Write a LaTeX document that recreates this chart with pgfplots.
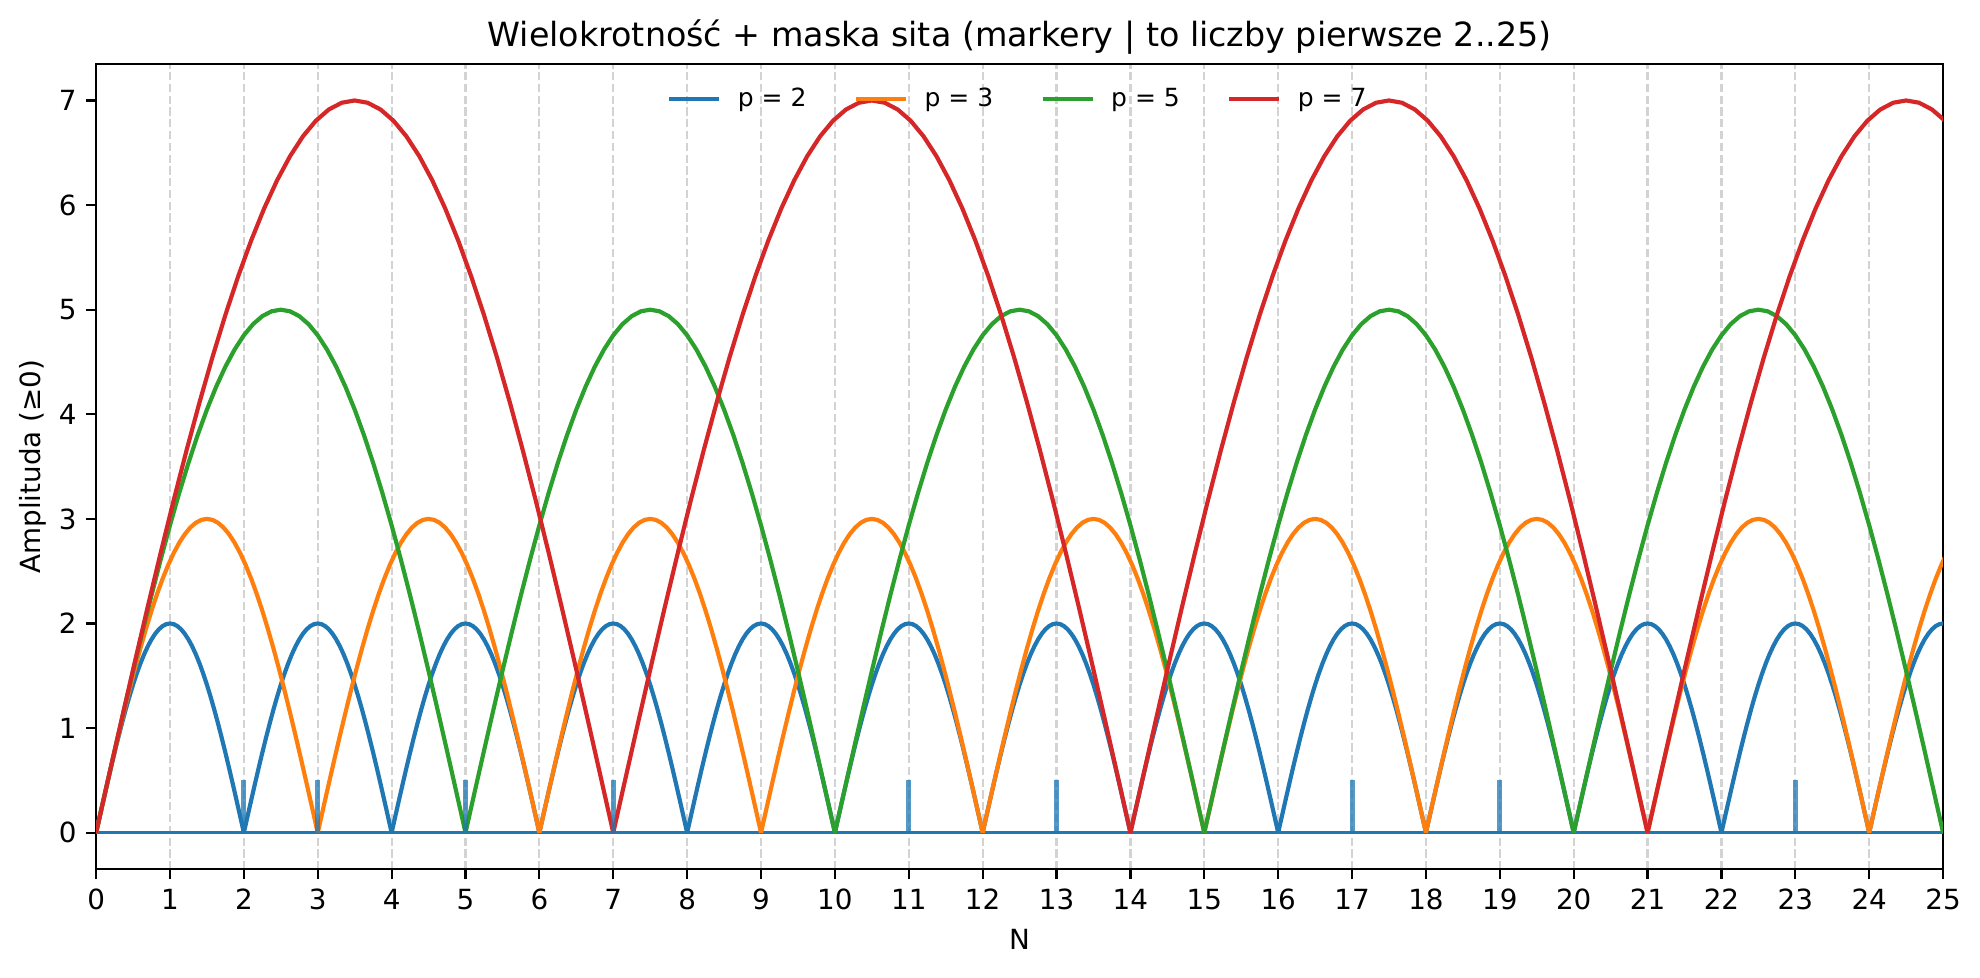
\documentclass[border=0pt]{standalone}
\usepackage{fontspec}
\setmainfont{DejaVu Sans}
\usepackage{pgfplots}
\pgfplotsset{compat=1.18}
\usepackage{pgfplotstable}
\definecolor{c0}{HTML}{1F77B4}
\definecolor{c1}{HTML}{FF7F0E}
\definecolor{c2}{HTML}{2CA02C}
\definecolor{c3}{HTML}{D62728}
\definecolor{gridc}{HTML}{D3D3D3}

% one arch of p*|sin(pi N/p)| for each p, N from 0 to p
\pgfplotstableread{
x y
0 0
0.05 0.15692
0.1 0.31286
0.15 0.46690
0.2 0.61804
0.25 0.76536
0.3 0.90798
0.35 1.04500
0.4 1.17558
0.45 1.29890
0.5 1.41422
0.55 1.52082
0.6 1.61804
0.65 1.70528
0.7 1.78202
0.75 1.84776
0.8 1.90212
0.85 1.94474
0.9 1.97538
0.95 1.99384
1 2
1.05 1.99384
1.1 1.97538
1.15 1.94474
1.2 1.90212
1.25 1.84776
1.3 1.78202
1.35 1.70528
1.4 1.61804
1.45 1.52082
1.5 1.41422
1.55 1.29890
1.6 1.17558
1.65 1.04500
1.7 0.90798
1.75 0.76536
1.8 0.61804
1.85 0.46690
1.9 0.31286
1.95 0.15692
2 0
}\archTwo

\pgfplotstableread{
x y
0 0
0.075 0.23538
0.15 0.46929
0.225 0.70035
0.3 0.92706
0.375 1.14804
0.45 1.36197
0.525 1.56750
0.6 1.76337
0.675 1.94835
0.75 2.12133
0.825 2.28123
0.9 2.42706
0.975 2.55792
1.05 2.67303
1.125 2.77164
1.2 2.85318
1.275 2.91711
1.35 2.96307
1.425 2.99076
1.5 3
1.575 2.99076
1.65 2.96307
1.725 2.91711
1.8 2.85318
1.875 2.77164
1.95 2.67303
2.025 2.55792
2.1 2.42706
2.175 2.28123
2.25 2.12133
2.325 1.94835
2.4 1.76337
2.475 1.56750
2.55 1.36197
2.625 1.14804
2.7 0.92706
2.775 0.70035
2.85 0.46929
2.925 0.23538
3 0
}\archThree

\pgfplotstableread{
x y
0 0
0.125 0.39230
0.25 0.78215
0.375 1.16725
0.5 1.54510
0.625 1.91340
0.75 2.26995
0.875 2.61250
1 2.93895
1.125 3.24725
1.25 3.53555
1.375 3.80205
1.5 4.04510
1.625 4.26320
1.75 4.45505
1.875 4.61940
2 4.75530
2.125 4.86185
2.25 4.93845
2.375 4.98460
2.5 5
2.625 4.98460
2.75 4.93845
2.875 4.86185
3 4.75530
3.125 4.61940
3.25 4.45505
3.375 4.26320
3.5 4.04510
3.625 3.80205
3.75 3.53555
3.875 3.24725
4 2.93895
4.125 2.61250
4.25 2.26995
4.375 1.91340
4.5 1.54510
4.625 1.16725
4.75 0.78215
4.875 0.39230
5 0
}\archFive

\pgfplotstableread{
x y
0 0
0.175 0.54922
0.35 1.09501
0.525 1.63415
0.7 2.16314
0.875 2.67876
1.05 3.17793
1.225 3.65750
1.4 4.11453
1.575 4.54615
1.75 4.94977
1.925 5.32287
2.1 5.66314
2.275 5.96848
2.45 6.23707
2.625 6.46716
2.8 6.65742
2.975 6.80659
3.15 6.91383
3.325 6.97844
3.5 7
3.675 6.97844
3.85 6.91383
4.025 6.80659
4.2 6.65742
4.375 6.46716
4.55 6.23707
4.725 5.96848
4.9 5.66314
5.075 5.32287
5.25 4.94977
5.425 4.54615
5.6 4.11453
5.775 3.65750
5.95 3.17793
6.125 2.67876
6.3 2.16314
6.475 1.63415
6.65 1.09501
6.825 0.54922
7 0
}\archSeven

\begin{document}
\begin{tikzpicture}
\begin{axis}[
  name=ax,
  scale only axis,
  width=665pt, height=290pt,
  xmin=0, xmax=25, ymin=-0.35, ymax=7.35,
  xtick={0,...,25}, ytick={0,...,7},
  xtick pos=bottom, ytick pos=left,
  tick align=outside,
  major tick length=3.5pt,
  every tick/.style={black, line width=0.8pt},
  axis line style={line width=0.8pt},
  /pgf/number format/assume math mode=true,
  tick label style={font=\fontsize{10}{12}\selectfont},
  label style={font=\fontsize{10}{12}\selectfont},
  ylabel style={yshift=-2.5pt},
  title style={font=\fontsize{12}{14}\selectfont, yshift=-6pt},
  title={Wielokrotność + maska sita (markery | to liczby pierwsze 2..25)},
  xlabel={N}, ylabel={Amplituda (≥0)},
  xmajorgrids=true,
  major grid style={gridc, line width=0.8pt, dash pattern=on 2.96pt off 1.28pt},
  legend style={at={(0.5,0.985)}, anchor=north, draw=none, fill=none,
    font=\fontsize{9}{11}\selectfont, legend columns=-1,
    /tikz/every even column/.append style={column sep=15pt}},
  legend image code/.code={\draw[#1, line width=1.5pt] (0pt,0pt) -- (18pt,0pt); \path (22pt,0pt);},
]
\addplot[c0, line width=1pt, forget plot] coordinates {(0,0) (25,0)};

\addplot[c0, line width=1.5pt] table[x=x, y=y]{\archTwo};
\addlegendentry{p = 2}
\pgfplotsinvokeforeach{1,...,12}{
  \addplot[c0, line width=1.5pt, forget plot] table[x expr=\thisrow{x}+2*#1, y=y]{\archTwo};
}
\addplot[c1, line width=1.5pt] table[x=x, y=y]{\archThree};
\addlegendentry{p = 3}
\pgfplotsinvokeforeach{1,...,8}{
  \addplot[c1, line width=1.5pt, forget plot] table[x expr=\thisrow{x}+3*#1, y=y]{\archThree};
}
\addplot[c2, line width=1.5pt] table[x=x, y=y]{\archFive};
\addlegendentry{p = 5}
\pgfplotsinvokeforeach{1,...,4}{
  \addplot[c2, line width=1.5pt, forget plot] table[x expr=\thisrow{x}+5*#1, y=y]{\archFive};
}
\addplot[c3, line width=1.5pt] table[x=x, y=y]{\archSeven};
\addlegendentry{p = 7}
\pgfplotsinvokeforeach{1,...,3}{
  \addplot[c3, line width=1.5pt, forget plot] table[x expr=\thisrow{x}+7*#1, y=y]{\archSeven};
}

\addplot[ycomb, c0, line width=1.8pt, opacity=0.75, mark=none, forget plot] coordinates {
  (2,0.5) (3,0.5) (5,0.5) (7,0.5) (11,0.5) (13,0.5) (17,0.5) (19,0.5) (23,0.5)};
\end{axis}
\path ([xshift=-34.6pt,yshift=-38.9pt]ax.south west) rectangle ([xshift=13.3pt,yshift=23pt]ax.north east);
\end{tikzpicture}
\end{document}
